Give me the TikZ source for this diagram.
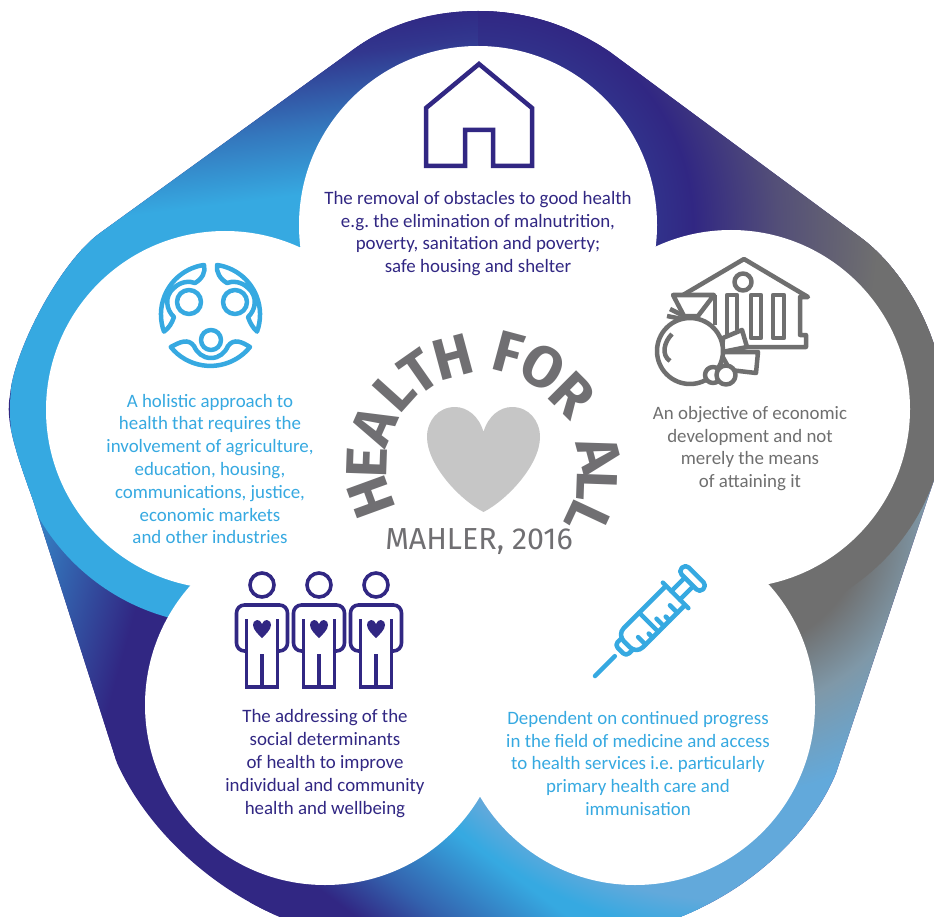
\documentclass[tikz,border=0pt]{standalone}
\usepackage{fontspec}
\setmainfont{Carlito}
\newfontfamily\titlefont{Fira Sans}
\definecolor{ringblue}{RGB}{54,169,225}
\definecolor{ringpurple}{RGB}{49,39,131}
\definecolor{ringgrey}{RGB}{111,111,111}
\definecolor{ringsteel}{RGB}{127,152,168}
\definecolor{ringhaze}{RGB}{98,169,219}
\definecolor{titlegrey}{RGB}{112,111,114}
\definecolor{heartgrey}{RGB}{198,198,198}
\pgfdeclareverticalshading{leftfold}{100bp}{color(0bp)=(ringblue!75!ringpurple); color(40.6bp)=(ringblue!75!ringpurple); color(47bp)=(ringpurple); color(100bp)=(ringpurple)}
\pgfdeclareverticalshading{bottomfold}{100bp}{color(0bp)=(ringpurple); color(43.6bp)=(ringpurple); color(46.1bp)=(ringblue!45!ringpurple); color(50bp)=(ringblue); color(100bp)=(ringblue)}
\pgfdeclareverticalshading{topfold}{100bp}{color(0bp)=(ringblue); color(46.8bp)=(ringblue); color(50bp)=(ringblue!62!ringpurple); color(53.5bp)=(ringblue!12!ringpurple); color(55.2bp)=(ringpurple); color(100bp)=(ringpurple)}
\pgfdeclareradialshading{topring}{\pgfpointorigin}{color(0bp)=(ringblue!8!ringpurple); color(6.4bp)=(ringblue!8!ringpurple); color(7.68bp)=(ringpurple); color(10.7bp)=(ringgrey!55!ringpurple); color(14.3bp)=(ringgrey); color(50bp)=(ringgrey)}
\pgfdeclareradialshading{lowerring}{\pgfpointorigin}{color(0bp)=(ringgrey); color(6.5bp)=(ringgrey); color(9.5bp)=(ringsteel); color(13.75bp)=(ringhaze); color(19bp)=(ringhaze); color(20.75bp)=(ringblue); color(50bp)=(ringblue)}
\tikzstyle{caption}=[align=center,inner sep=0pt,font=\frenchspacing\fontsize{18.9}{22.8}\selectfont]
\tikzstyle{letter}=[inner sep=0pt,text=titlegrey,font=\titlefont\bfseries\fontsize{58}{58}\selectfont]
\tikzstyle{iconline}=[line width=4.5pt,line join=round]
\tikzstyle{thinline}=[line width=3.6pt,ringpurple]

\begin{document}
\begin{tikzpicture}[x=1pt,y=-1pt]

    \useasboundingbox (0,0) rectangle (934,917);

    % coloured ring
    \begin{scope}
      \clip (478,11) .. controls (530,11) and (575,28) .. (610,52) -- (860,237)
        .. controls (905,270) and (945,340) .. (945,410) .. controls (945,440) and (940,460) .. (934,480)
        -- (836,773) .. controls (815,825) and (760,885) .. (680,917)
        .. controls (620,935) and (340,935) .. (280,917)
        .. controls (205,885) and (145,825) .. (117,763) -- (33,500)
        .. controls (15,450) and (5,420) .. (10,395) .. controls (14,350) and (60,262) .. (100,233)
        -- (350,52) .. controls (385,25) and (430,11) .. (478,11) -- cycle;

      \fill[ringpurple] (0,0) rectangle (934,917);

      \begin{scope}
        \clip (0,450) rectangle (200,760);
        \shade[shading=leftfold,shading angle=-105.5] (200,600) circle [radius=500];
      \end{scope}

      \begin{scope}
        \clip (250,760) rectangle (700,930);
        \shade[shading=bottomfold,shading angle=-36.87] (480,850) circle [radius=500];
      \end{scope}

      \begin{scope}
        \clip (350,752) -- (640,970) -- (960,970) -- (960,480) -- (700,480) -- cycle;
        \shade[shading=lowerring] (735,520) circle [radius=500];
      \end{scope}

      \begin{scope}
        \clip (731,409) circle [radius=215];
        \shade[shading=topring] (478,225) circle [radius=700];
      \end{scope}
      \begin{scope}
        \clip (478,0) rectangle (950,409);
        \shade[shading=topring] (478,225) circle [radius=700];
      \end{scope}

      \fill[ringblue] (225,410) circle [radius=215];
      \begin{scope}
        \clip (0,0) rectangle (478,250);
        \shade[shading=topfold,shading angle=7] (300,130) circle [radius=500];
      \end{scope}
      \begin{scope}
        \clip (478,0) rectangle (700,250);
        \clip (478,225) circle [radius=215];
        \shade[shading=topring] (478,225) circle [radius=700];
      \end{scope}
    \end{scope}

    % white flower
    \fill[white] (478,225) circle [radius=179];
    \fill[white] (731,409) circle [radius=179];
    \fill[white] (635,705) circle [radius=180];
    \fill[white] (325,705) circle [radius=180];
    \fill[white] (225,410) circle [radius=179];
    \fill[white] (300,247) -- (656,247) -- (766,585) -- (480,797) -- (193,586) -- cycle;

    % title
    \foreach \ch/\px/\py/\rot [count=\i] in {H/371/497/110,E/367/463/88,A/374/426/66,L/395/391/48,T/419/372/35,H/453/357/15,F/508/353/-15,O/543/367/-30,R/572/395/-45,A/599/455/-75,L/597/486/-92,L/587/518/-115}
      \node[letter,rotate=\rot] (title\i) at (\px,\py) {\ch};
    \node[inner sep=0pt,text=titlegrey,font=\titlefont\fontsize{30.4}{32}\selectfont] (source) at (479,542) {MAHLER, 2016};

    \fill[heartgrey] (483.5,432) .. controls (479,416) and (467,407) .. (455,407)
      .. controls (438,407) and (427,421) .. (427,437) .. controls (427,465) and (460,500) .. (483.5,512)
      .. controls (507,500) and (540,465) .. (540,437) .. controls (540,421) and (529,407) .. (512,407)
      .. controls (500,407) and (488,416) .. (483.5,432) -- cycle;

    % captions
    \node[caption,text=ringpurple] (housetext) at (478,233.5) {The removal of obstacles to good health\\e.g. the elimination of malnutrition,\\poverty, sanitation and poverty;\\safe housing and shelter};
    \node[caption,text=ringgrey] (banktext) at (750,448.5) {An objective of economic\\development and not\\merely the means\\of attaining it};
    \node[caption,text=ringblue] (syringetext) at (638,763.5) {Dependent on continued progress\\in the field of medicine and access\\to health services i.e. particularly\\primary health care and\\immunisation};
    \node[caption,text=ringpurple] (peopletext) at (325,763.5) {The addressing of the\\social determinants\\of health to improve\\individual and community\\health and wellbeing};
    \node[caption,text=ringblue] (grouptext) at (210,469) {A holistic approach to\\health that requires the\\involvement of agriculture,\\education, housing,\\communications, justice,\\economic markets\\and other industries};

    % house
    \draw[iconline,ringpurple,line join=miter] (426,166) -- (426,108) -- (479,64) -- (532,108) -- (532,166) -- (493,166) -- (493,130) -- (465,130) -- (465,166) -- cycle;

    % community
    \draw[iconline,ringblue] (189,302) circle [radius=12];
    \draw[iconline,ringblue] (235,302) circle [radius=12];
    \draw[iconline,ringblue] (211,340) circle [radius=10];
    \draw[iconline,ringblue] (217,265) arc [start angle=-82,end angle=20,radius=50]
      .. controls (253,328) and (250,323) .. (248,317) .. controls (256,310) and (258,296) .. (248,288)
      .. controls (241,281) and (232,281) .. (227,283) .. controls (220,279) and (216,272) .. (217,265) -- cycle;
    \draw[iconline,ringblue] (204,265) arc [start angle=-98,end angle=-200,radius=50]
      .. controls (169,328) and (172,323) .. (174,317) .. controls (166,310) and (164,296) .. (174,288)
      .. controls (181,281) and (190,281) .. (195,283) .. controls (202,279) and (206,272) .. (204,265) -- cycle;
    \draw[iconline,ringblue] (250,347) arc [start angle=39,end angle=141,radius=51]
      .. controls (180,342) and (188,338) .. (194,346) .. controls (197,353) and (203,358) .. (211,358)
      .. controls (219,358) and (225,353) .. (228,346) .. controls (234,338) and (242,342) .. (250,347) -- cycle;

    % bank and money bag
    \draw[iconline,ringgrey] (683,295) -- (744,259) -- (808,297) -- (800,297) -- (800,335) -- (806,335) -- (806,347) -- (740,347);
    \draw[iconline,ringgrey] (743,282) circle [radius=8.5];
    \draw[iconline,ringgrey] (727,295) rectangle (737,338);
    \draw[iconline,ringgrey] (751,295) rectangle (761,338);
    \draw[iconline,ringgrey] (773,295) rectangle (784,338);
    \draw[iconline,ringgrey] (715,295) -- (715,325);
    \draw[iconline,ringgrey,fill=white] (723,338) -- (742,330) -- (747,347) -- (722,352) -- cycle;
    \draw[iconline,ringgrey,fill=white] (720,352) -- (758,352) -- (756,373) -- (730,370) -- cycle;
    \draw[iconline,ringgrey,fill=white] (673,295) -- (714,295) -- (698,316) -- (684,316) -- cycle;
    \draw[iconline,ringgrey] (670,309) -- (684,316);
    \draw[iconline,ringgrey] (667,316) -- (682,319);
    \draw[iconline,ringgrey,fill=white] (690,351) circle [radius=33];
    \draw[iconline,ringgrey] (672,334) .. controls (664,342) and (661,355) .. (670,361);
    \draw[iconline,ringgrey,fill=white] (713,375) circle [radius=8];
    \draw[iconline,ringgrey,fill=white] (726,375) circle [radius=9.5];

    % three people
    \foreach \cx in {262,319,376} {
      \begin{scope}[shift={(\cx,0)}]
        \draw[thinline] (0,585) circle [radius=12];
        \draw[thinline] (-15.5,619) -- (-15.5,687) -- (15.5,687) -- (15.5,619);
        \draw[thinline] (0,654) -- (0,687);
        \draw[thinline,rounded corners=8pt] (-15.5,651) -- (-25.5,651) -- (-25.5,605) -- (25.5,605) -- (25.5,651) -- (15.5,651);
        \fill[ringpurple] (0,624) .. controls (-1,621) and (-3,620) .. (-5,620) .. controls (-8,620) and (-9,623) .. (-9,625)
          .. controls (-9,630) and (-3,635) .. (0,638) .. controls (3,635) and (9,630) .. (9,625)
          .. controls (9,623) and (8,620) .. (5,620) .. controls (3,620) and (1,621) .. (0,624) -- cycle;
      \end{scope}
    }

    % syringe
    \begin{scope}[shift={(595,676)},rotate=45,ringblue,iconline,line cap=round]
      \draw (0,0) -- (28,0);
      \draw[rounded corners=4pt] (46,-8) -- (36,-8) -- (36,8) -- (46,8);
      \draw[rounded corners=9pt] (113,-13.5) -- (45,-13.5) -- (45,13.5) -- (113,13.5);
      \draw (114,-18) -- (114,18);
      \draw (76,-13.5) -- (76,13.5);
      \draw (58,13.5) -- (58,3);
      \draw (68,13.5) -- (68,8);
      \draw (84,13.5) -- (84,3);
      \draw (92,13.5) -- (92,8);
      \draw (103,13.5) -- (103,3);
      \draw (114,-6) -- (131,-6);
      \draw (114,6) -- (131,6);
      \draw[rounded corners=4.5pt] (133,-15) rectangle (143,15);
    \end{scope}

  \end{tikzpicture}
\end{document}
